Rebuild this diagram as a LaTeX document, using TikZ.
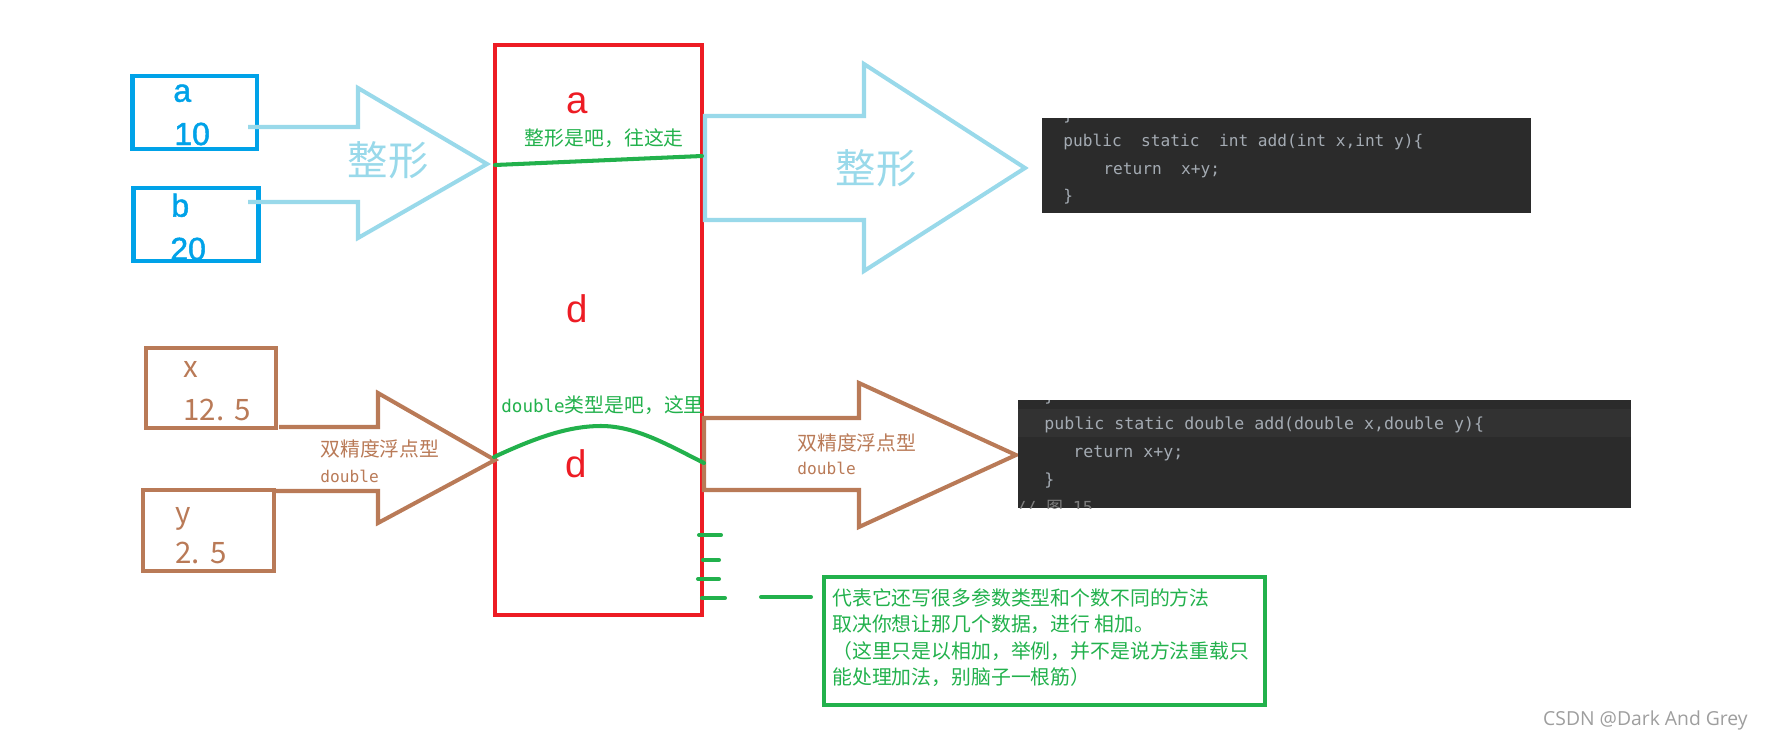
\documentclass[tikz,border=0pt]{standalone}
\usepackage{fontspec}
\setmainfont{Liberation Sans}
\newfontfamily\cjk{Noto Sans CJK SC}
\newfontfamily\bluefont[FakeBold=1.5]{Liberation Sans}
\newfontfamily\codefont{DejaVu Sans Mono}
\newfontfamily\wmfont{Open Sans}
\definecolor{pred}{HTML}{ED1C24}
\definecolor{pgreen}{HTML}{22B14C}
\definecolor{pblue}{HTML}{00A2E8}
\definecolor{plblue}{HTML}{99D9EA}
\definecolor{pbrown}{HTML}{B97A57}
\definecolor{codebg}{HTML}{2B2B2B}
\definecolor{codehl}{HTML}{323232}
\definecolor{codefg}{HTML}{A4ABB3}
\definecolor{codecm}{HTML}{7F7F7F}
\begin{document}
\begin{tikzpicture}[x=0.02cm,y=-0.02cm,
  varbox/.style={draw, line width=2.3pt, inner sep=0pt},
  bluebox/.style={varbox, draw=pblue},
  brownbox/.style={varbox, draw=pbrown},
  bluetxt/.style={text=pblue, inner sep=0pt, font=\bluefont\fontsize{18.2}{20}\selectfont},
  browntxt/.style={text=pbrown, inner sep=0pt, font=\cjk\fontsize{16.8}{19}\selectfont},
  redtxt/.style={text=pred, inner sep=0pt, font=\fontsize{21.9}{24}\selectfont},
  bigtxt/.style={text=plblue, inner sep=0pt, font=\cjk\fontsize{23}{26}\selectfont},
  smalltxt/.style={inner sep=0pt, font=\cjk\fontsize{11.3}{15}\selectfont},
  monotxt/.style={inner sep=0pt, font=\codefont\fontsize{9.2}{11}\selectfont},
  blockarrow/.style={line width=2.3pt, line join=miter},
  greenline/.style={draw=pgreen, line width=2.3pt, line cap=round},
  codeline/.style={inner sep=0pt, text=codefg, anchor=base west},
]
\useasboundingbox (0,0) rectangle (1765,741);

% ---------- texts inside left boxes (drawn before boxes) ----------
\node[bluetxt, anchor=base west] (ta) at (173,101.7) {a};
\node[bluetxt, anchor=base west] (t10) at (174,145) {10};
\node[bluetxt, anchor=base west] (tb) at (171,216.7) {b};
\node[bluetxt, anchor=base west] (t20) at (170,260) {20};

\node[browntxt, anchor=base west] (tx) at (183,377) {x};
\node[browntxt, anchor=base west] (t125) at (183,420) {12.\kern0.35em5};
\node[browntxt, anchor=base west] (ty) at (175,523) {y};
\node[browntxt, anchor=base west] (t25) at (175,563) {2.\kern0.35em5};

% ---------- boxes ----------
\node[bluebox, minimum width=2.49cm, minimum height=1.46cm] (boxa) at (194.75,112.5) {};
\node[bluebox, minimum width=2.5cm, minimum height=1.46cm] (boxb) at (196,224.5) {};
\node[brownbox, minimum width=2.6cm, minimum height=1.6cm] (boxx) at (211,388) {};
\node[brownbox, minimum width=2.62cm, minimum height=1.62cm] (boxy) at (208.5,530.5) {};

% ---------- red method table ----------
\node[draw=pred, line width=2.56pt, inner sep=0pt, minimum width=4.14cm, minimum height=11.4cm] (table) at (598.5,330) {};
\node[redtxt, anchor=base] (ra) at (577,113) {a};
\node[redtxt, anchor=base] (rd1) at (577,322) {d};
\node[redtxt, anchor=base] (rd2) at (576.5,477) {d};

% ---------- left light-blue arrow ----------
\draw[blockarrow, draw=plblue] (248,127) -- (358,127) -- (358,88) -- (487,164) -- (358,238) -- (358,202) -- (248,202);
\node[bigtxt] (zx1) at (388,160) {整形};

% ---------- left brown arrow ----------
\draw[blockarrow, draw=pbrown] (279,427) -- (378,427) -- (378,393) -- (495,460) -- (378,523) -- (378,491) -- (275,491);
\node[smalltxt, text=pbrown, anchor=west] (sj1) at (320,449) {双精度浮点型};
\node[monotxt, text=pbrown, anchor=base west] (db1) at (320,482) {double};

% ---------- right light-blue arrow ----------
\draw[blockarrow, draw=plblue] (705,116) -- (864,116) -- (864,64) -- (1025,168) -- (864,271) -- (864,220) -- (705,220) -- cycle;
\node[bigtxt] (zx2) at (876,168) {整形};

% ---------- right brown arrow ----------
\draw[blockarrow, draw=pbrown] (704,418) -- (859,418) -- (859,383) -- (1016,455) -- (859,527) -- (859,490) -- (704,490) -- cycle;
\node[smalltxt, text=pbrown, anchor=west] (sj2) at (797,442.5) {双精度浮点型};
\node[monotxt, text=pbrown, anchor=base west] (db2) at (797,474) {double};

% ---------- green paths inside table ----------
\coordinate (g1s) at (495,165);
\coordinate (g1e) at (702,156);
\draw[greenline] (g1s) -- (g1e);
\node[smalltxt, text=pgreen, anchor=west] (gt1) at (524.6,138) {整形是吧，往这走};

\coordinate (g2s) at (494,457);
\coordinate (g2p) at (601,426);
\coordinate (g2e) at (704,463);
\draw[greenline] (g2s) .. controls (535,438) and (568,426) .. (g2p) .. controls (636,426) and (668,445) .. (g2e);
\node[smalltxt, text=pgreen, anchor=west] (gt2) at (501,405) {{\codefont\fontsize{10}{12}\selectfont double}类型是吧，这里};

% ---------- more overloads marks ----------
\coordinate (m1a) at (699,535); \coordinate (m1b) at (721,535);
\coordinate (m2a) at (703,560); \coordinate (m2b) at (719,560);
\coordinate (m3a) at (698,579); \coordinate (m3b) at (719,579);
\coordinate (m4a) at (702,598); \coordinate (m4b) at (725,598);
\draw[greenline] (m1a) -- (m1b);
\draw[greenline] (m2a) -- (m2b);
\draw[greenline] (m3a) -- (m3b);
\draw[greenline] (m4a) -- (m4b);
\coordinate (m5a) at (761,597); \coordinate (m5b) at (811,597);
\draw[greenline] (m5a) -- (m5b);

% ---------- green note box ----------
\node[draw=pgreen, line width=2.6pt, inner sep=0pt, minimum width=8.82cm, minimum height=2.56cm] (note) at (1044.5,641) {};
\node[smalltxt, text=pgreen, anchor=west, align=left] (notetxt) at (832,637.5) {代表它还写很多参数类型和个数不同的方法\\取决你想让那几个数据，进行 相加。\\（这里只是以相加，举例，并不是说方法重载只\\能处理加法，别脑子一根筋）};

% ---------- code block 1 ----------
\node[fill=codebg, inner sep=0pt, minimum width=9.78cm, minimum height=1.9cm] (code1) at (1286.5,165.5) {};
\begin{scope}
\clip (1042,118) rectangle (1531,213);
\node[codeline, monotxt] (c1a) at (1063,120) {\}};
\node[codeline, monotxt] (c1b) at (1063,146) {public\ \ static\ \ int add(int x,int y)\{};
\node[codeline, monotxt] (c1c) at (1103,174) {return\ \ x+y;};
\node[codeline, monotxt] (c1d) at (1063,201) {\}};
\end{scope}

% ---------- code block 2 ----------
\node[fill=codebg, inner sep=0pt, minimum width=12.26cm, minimum height=2.16cm] (code2) at (1324.5,454) {};
\fill[codehl] (1018,409) rectangle (1631,437);
\begin{scope}
\clip (1018,400) rectangle (1631,508);
\node[codeline, monotxt, font=\codefont\fontsize{9.45}{11}\selectfont] (c2a) at (1044,401) {\}};
\node[codeline, monotxt, font=\codefont\fontsize{9.45}{11}\selectfont] (c2b) at (1044,429) {public static double add(double x,double y)\{};
\node[codeline, monotxt, font=\codefont\fontsize{9.45}{11}\selectfont] (c2c) at (1073,457) {return x+y;};
\node[codeline, monotxt, font=\codefont\fontsize{9.45}{11}\selectfont] (c2d) at (1044,485) {\}};
\node[codeline, monotxt, text=codecm, font=\codefont\fontsize{9.45}{11}\selectfont] (c2e) at (1016,513) {//\ {\cjk 图}\ 15};
\end{scope}

% ---------- watermark ----------
\node[inner sep=0pt, anchor=east, text=black!38, font=\wmfont\fontsize{11}{13}\selectfont] (wm) at (1748,720) {CSDN @Dark And Grey};
\end{tikzpicture}
\end{document}
